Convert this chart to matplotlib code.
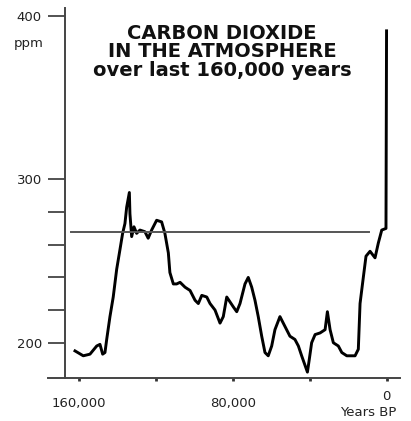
import matplotlib
matplotlib.use("Agg")
import matplotlib.pyplot as plt
import matplotlib.transforms as mtransforms

# CO2 record (years before present, ppm)
years = [162200, 157900, 154400, 150900, 149200, 147800, 146600, 145700, 144000, 142300,
         140500, 138800, 137400, 136200, 135300, 133900, 133600, 132700, 131500, 130100,
         128400, 125800, 124100, 122300, 119700, 117100, 115400, 113600, 112800, 111000,
         109300, 107500, 104900, 102300, 99700, 98000, 96200, 93600, 91900, 89300,
         86700, 85000, 83200, 81500, 79800, 78000, 76300, 73700, 72000, 70200,
         68500, 66800, 65000, 63300, 61600, 59800, 58100, 55500, 52900, 50300,
         47700, 45900, 44200, 42400, 41200, 40200, 39000, 37200, 34600, 32000,
         30800, 29400, 27700, 25100, 23300, 20700, 16400, 14700, 13800, 12100,
         10700, 8600, 6000, 4300, 2500, 300, 0]
co2 = [195, 192, 193, 198, 199, 193, 194, 202, 216, 228,
       245, 257, 267, 273, 283, 292, 279, 265, 271, 267,
       269, 268, 264, 269, 275, 274, 267, 255, 243, 236,
       236, 237, 234, 232, 226, 224, 229, 228, 224, 220,
       212, 216, 228, 225, 222, 219, 224, 236, 240, 234,
       226, 216, 204, 194, 192, 198, 208, 216, 210, 204,
       202, 198, 192, 186, 182, 190, 200, 205, 206, 208,
       219, 208, 200, 198, 194, 192, 192, 196, 224, 240,
       253, 256, 252, 261, 269, 270, 391]

ref_level = 268
ref_span = [164300, 8900]

x_ticks = [160000, 120000, 80000, 40000, 0]
x_labels = ["160,000", "", "80,000", "", ""]
y_major = [200, 300, 400]
y_minor = [220, 240, 260, 280]

W, H = 411, 421
fig = plt.figure(figsize=(W / 100, H / 100), dpi=100)
ax = fig.add_axes([48.3 / W, 1 - 378 / H, (400 - 48.3) / W, (378 - 8) / H])

ax.plot(years, co2, color="black", lw=2.1, solid_joinstyle="round")
ax.plot(ref_span, [ref_level, ref_level], color="#555555", lw=1.4)

ax.set_xlim(176100, -7000)
ax.set_ylim(178.4, 405)

for s in ["top", "right"]:
    ax.spines[s].set_visible(False)
ax.spines["left"].set_position(("data", 167200))
for s in ["left", "bottom"]:
    ax.spines[s].set_color("#444444")
    ax.spines[s].set_linewidth(1.4)

ax.set_yticks(y_major)
ax.set_yticklabels([str(v) for v in y_major])
ax.set_yticks(y_minor, minor=True)
ax.tick_params(axis="y", which="both", direction="out", length=12.5, width=1.3,
               color="#444444", pad=4.5, labelsize=9.5, labelcolor="#222222")

ax.set_xticks(x_ticks)
ax.set_xticklabels(x_labels)
ax.tick_params(axis="x", direction="out", length=2.5, width=2, color="#333333",
               pad=11, labelsize=9.5, labelcolor="#222222")

# labels that sit off the regular tick positions
trans = mtransforms.blended_transform_factory(ax.transData, fig.transFigure)
ax.text(0, 1 - 397 / H, "0", transform=trans, ha="center", va="center",
        fontsize=9.5, color="#222222")
fig.text(340 / W, 1 - 412 / H, "Years BP", ha="left", va="center",
         fontsize=9.5, color="#222222")
fig.text(29 / W, 1 - 44 / H, "ppm", ha="center", va="center",
         fontsize=9.5, color="#222222")

title_lines = ["CARBON DIOXIDE", "IN THE ATMOSPHERE", "over last 160,000 years"]
for i, line in enumerate(title_lines):
    fig.text(222 / W, 1 - (33.5 + 18.4 * i) / H, line, ha="center", va="center",
             fontsize=14, fontweight="bold", color="#111111")

fig.savefig("out.png", dpi=100)
